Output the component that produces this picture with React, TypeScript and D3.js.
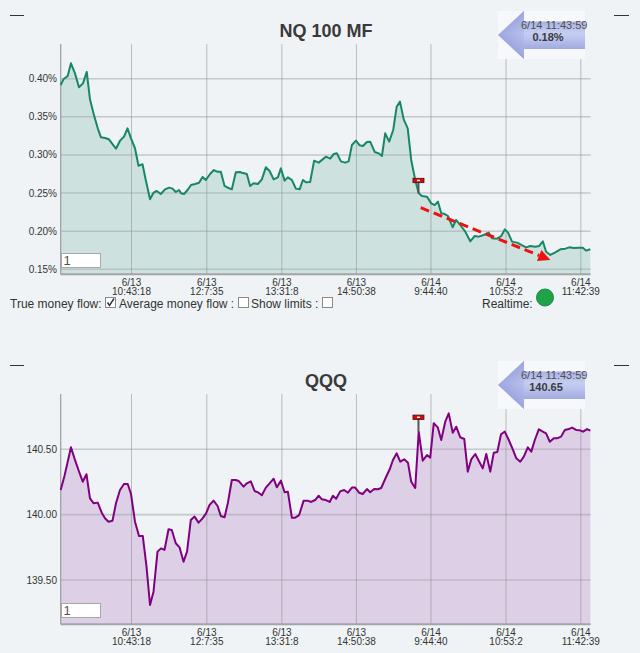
import React from 'react';
import * as d3 from 'd3';

// ---------- data ----------
const mfPoints: [number, number][] = [
  [0,0.3917],[1.1,0.3992],[2.8,0.4035],[4.1,0.4202],[5.7,0.4070],[7.3,0.3887],[8.9,0.3939],[10.4,0.4088],[11.7,0.3729],[13.1,0.3546],
  [14.8,0.3349],[16.1,0.3231],[17.7,0.3222],[19.3,0.3205],[20.7,0.3143],[22.1,0.3082],[23.7,0.3187],[25.3,0.3240],[26.7,0.3349],[28.1,0.3218],
  [29.7,0.3087],[31.1,0.2859],[32.7,0.2877],[34.0,0.2671],[35.7,0.2418],[37.1,0.2505],[38.4,0.2527],[40.0,0.2488],[41.7,0.2549],[43.3,0.2571],
  [44.7,0.2558],[46.0,0.2514],[47.3,0.2540],[48.1,0.2497],[49.3,0.2488],[50.7,0.2540],[52.1,0.2606],[53.7,0.2619],[55.3,0.2636],[56.7,0.2711],
  [58.0,0.2671],[59.7,0.2750],[61.2,0.2802],[62.5,0.2781],[64.0,0.2781],[65.5,0.2593],[67.1,0.2566],[68.4,0.2549],[70.0,0.2772],[71.7,0.2776],
  [72.4,0.2767],[74.4,0.2750],[75.7,0.2593],[77.1,0.2628],[78.8,0.2619],[80.4,0.2680],[82.0,0.2838],[83.5,0.2789],[85.1,0.2680],[86.8,0.2706],
  [88.0,0.2824],[89.5,0.2663],[90.8,0.2706],[92.4,0.2671],[94.0,0.2558],[95.5,0.2549],[96.8,0.2671],[98.1,0.2641],[99.7,0.2645],[101.3,0.2925],
  [103.1,0.2899],[104.7,0.2942],[106.0,0.2977],[107.7,0.2951],[109.1,0.3012],[110.4,0.3021],[112.0,0.2916],[113.7,0.2899],[115.1,0.2916],[116.4,0.3130],
  [118.0,0.3187],[119.5,0.3126],[120.8,0.3117],[122.4,0.3170],[123.7,0.3174],[125.5,0.3039],[127.1,0.3021],[128.4,0.2986],[129.7,0.3283],[131.3,0.3174],
  [132.9,0.3327],[134.3,0.3633],[135.6,0.3699],[137.1,0.3467],[138.7,0.3349],[140.1,0.2934],[141.7,0.2671],[143.1,0.2497],[144.4,0.2462],[146.4,0.2453],
  [148.1,0.2365],[149.5,0.2343],[150.8,0.2387],[152.1,0.2234],[153.5,0.2225],[154.8,0.2199],[156.7,0.2051],[158.0,0.2147],[159.7,0.2081],[161.7,0.1994],
  [163.7,0.1867],[165.5,0.1937],[167.1,0.1928],[169.1,0.1950],[171.1,0.1981],[172.4,0.1906],[174.4,0.1902],[176.1,0.1937],[177.5,0.2024],[178.8,0.1981],
  [180.4,0.1863],[182.4,0.1850],[184.1,0.1819],[186.0,0.1788],[187.7,0.1806],[189.7,0.1797],[191.3,0.1806],[192.7,0.1867],[194.0,0.1731],[195.7,0.1688],
  [197.7,0.1723],[199.7,0.1762],[201.7,0.1771],[203.3,0.1788],[205.1,0.1779],[207.1,0.1784],[208.7,0.1784],[210.0,0.1745],[211.7,0.1762],
];

const qqqPoints: [number, number][] = [
  [0,140.189],[1.5,140.296],[2.8,140.405],[4.1,140.515],[5.5,140.431],[7.1,140.342],[8.8,140.252],[10.3,140.309],[11.7,140.125],[13.2,140.087],
  [14.8,140.092],[16.4,140.015],[17.7,139.972],[19.1,139.946],[20.7,139.954],[22.1,140.087],[23.7,140.189],[25.3,140.235],[26.8,140.235],[28.1,140.158],
  [29.7,139.946],[31.3,139.837],[32.8,139.837],[34.3,139.602],[35.7,139.309],[37.1,139.411],[38.7,139.717],[40.1,139.742],[41.5,139.730],[43.1,139.888],
  [44.4,139.883],[46.0,139.781],[47.5,139.750],[49.1,139.640],[50.5,139.717],[52.0,139.959],[53.5,139.985],[55.1,139.939],[56.7,139.972],[58.1,140.010],
  [59.5,140.074],[61.1,140.107],[62.7,140.066],[64.0,139.990],[65.5,139.980],[66.8,140.087],[68.4,140.265],[70.0,140.265],[71.1,140.258],[73.1,140.214],
  [74.4,140.240],[76.0,140.255],[77.5,140.181],[79.1,140.168],[80.4,140.148],[82.0,140.207],[83.5,140.240],[85.1,140.275],[86.4,140.209],[88.0,140.260],
  [89.5,140.171],[90.8,140.176],[92.4,139.977],[93.7,139.977],[95.3,139.997],[97.1,140.107],[98.7,140.107],[100.1,140.097],[101.7,140.112],[103.1,140.145],
  [104.4,140.117],[106.0,140.112],[107.5,140.097],[108.8,140.145],[110.1,140.122],[111.7,140.178],[113.3,140.189],[114.8,140.168],[116.4,140.207],[117.7,140.207],
  [119.3,140.168],[120.7,140.158],[122.4,140.196],[123.7,140.171],[125.3,140.196],[126.8,140.194],[128.1,140.204],[130.0,140.286],[131.5,140.347],[132.8,140.418],
  [134.3,140.469],[135.7,140.405],[137.3,140.423],[138.8,140.398],[140.1,140.252],[141.7,140.204],[143.1,140.635],[144.7,140.413],[146.4,140.456],[147.7,140.436],
  [149.1,140.699],[150.7,140.668],[152.1,140.571],[153.7,140.711],[155.1,140.775],[156.7,140.627],[158.1,140.673],[159.7,140.592],[161.3,140.579],[162.7,140.329],
  [164.1,140.423],[165.7,140.464],[167.3,140.405],[168.7,140.354],[170.1,140.464],[171.7,140.329],[173.1,140.474],[174.5,140.479],[176.0,140.615],[177.5,140.635],
  [179.1,140.571],[180.7,140.500],[182.1,140.431],[183.7,140.405],[185.1,140.444],[186.7,140.515],[188.1,140.482],[189.5,140.571],[191.1,140.653],[192.7,140.635],
  [194.0,140.622],[195.5,140.558],[197.1,140.584],[198.4,140.584],[200.0,140.597],[201.5,140.648],[203.1,140.655],[204.4,140.666],[206.0,140.648],[207.5,140.645],
  [208.8,140.635],[210.4,140.655],[211.7,140.643],
];

const xTickIdx = [28.3, 58.4, 88.4, 118.2, 148, 178, 207.9];
const xTickDates = ['6/13', '6/13', '6/13', '6/13', '6/14', '6/14', '6/14'];
const xTickTimes = ['10:43:18', '12:7:35', '13:31:8', '14:50:38', '9:44:40', '10:53:2', '11:42:39'];

const mfTicks = [0.15, 0.2, 0.25, 0.3, 0.35, 0.4];
const qqqTicks = [139.5, 140.0, 140.5];

const mfTrend: [number, number][] = [[143.9, 0.2308], [195.7, 0.1622]];
const mfMarker = { idx: 143.0, top: 0.2665, bottom: 0.2497 };
const qqqMarker = { idx: 143.0, top: 140.745, bottom: 140.635 };

const badgeTime = '6/14 11:43:59';
const mfBadgeValue = '0.18%';
const qqqBadgeValue = '140.65';

const legendItems = [
  { label: 'True money flow:', checked: true },
  { label: 'Average money flow :', checked: false },
  { label: 'Show limits :', checked: false },
];

// ---------- layout ----------
const W = 640;
const H = 653;
const BG = '#eff3f6';
const FONT = "'Liberation Sans', Arial, sans-serif";
const PLOT_L = 60.7;
const PLOT_R = 590.6;
const PLOT_T = 44;
const PLOT_B = 274.3;

const x = d3.scaleLinear().domain([0, 211.8]).range([PLOT_L, PLOT_R]);

type PanelProps = {
  offset: number;
  title: string;
  points: [number, number][];
  yDomain: [number, number];
  yRange: [number, number];
  ticks: number[];
  fmt: (v: number) => string;
  fill: string;
  stroke: string;
  badgeValue: string;
  badgeValueX: number;
  marker: { idx: number; top: number; bottom: number };
  trend?: [number, number][];
  gid: string;
};

function Panel(p: PanelProps) {
  const y = d3.scaleLinear().domain(p.yDomain).range(p.yRange);
  const line = d3.line<[number, number]>().x(d => x(d[0])).y(d => y(d[1]));
  const area = d3.area<[number, number]>().x(d => x(d[0])).y0(PLOT_B).y1(d => y(d[1]));
  const mx = x(p.marker.idx);
  return (
    <g transform={`translate(0,${p.offset})`}>
      <defs>
        <linearGradient id={p.gid} x1="0" y1="0" x2="0" y2="1">
          <stop offset="0" stopColor="#8b96d6" />
          <stop offset="0.45" stopColor="#c6cdf1" />
          <stop offset="0.55" stopColor="#bec6ef" />
          <stop offset="1" stopColor="#8792d2" />
        </linearGradient>
        <linearGradient id={p.gid + 'h'} x1="0" y1="0" x2="1" y2="0">
          <stop offset="0" stopColor="#7f8bd0" />
          <stop offset="1" stopColor="#aab3e8" />
        </linearGradient>
      </defs>
      {/* corner dashes */}
      <line x1={10} x2={24} y1={15.5} y2={15.5} stroke="#333" strokeWidth={1} />
      <line x1={614} x2={629} y1={15.5} y2={15.5} stroke="#333" strokeWidth={1} />
      {/* title */}
      <text x={326} y={36.5} textAnchor="middle" fontFamily={FONT} fontWeight="bold" fontSize={18} fill="#3a3a3a">
        {p.title}
      </text>
      {/* area */}
      <path d={area(p.points) || ''} fill={p.fill} />
      {/* horizontal gridlines */}
      {p.ticks.map(t => (
        <line key={'h' + t} x1={PLOT_L} x2={PLOT_R} y1={y(t)} y2={y(t)} stroke="#a9abb0" strokeOpacity={0.6} strokeWidth={1.6} />
      ))}
      {/* vertical gridlines */}
      {xTickIdx.map(t => (
        <line key={'v' + t} x1={x(t)} x2={x(t)} y1={PLOT_T} y2={PLOT_B} stroke="#8c8c90" strokeOpacity={0.55} strokeWidth={1} />
      ))}
      {/* axes */}
      <line x1={PLOT_L} x2={PLOT_L} y1={PLOT_T} y2={PLOT_B} stroke="#9a9ca0" strokeWidth={1.2} />
      <line x1={PLOT_L} x2={PLOT_R} y1={PLOT_B} y2={PLOT_B} stroke="#a2a4a8" strokeWidth={2} />
      {/* y tick labels */}
      {p.ticks.map(t => (
        <text key={'yl' + t} x={57} y={y(t) + 3.5} textAnchor="end" fontFamily={FONT} fontSize={10} fill="#333">
          {p.fmt(t)}
        </text>
      ))}
      {/* x tick labels */}
      {xTickIdx.map((t, i) => (
        <text key={'xl' + t} x={x(t)} y={285.5} textAnchor="middle" fontFamily={FONT} fontSize={10} fill="#333">
          <tspan x={x(t)} dy={0}>{xTickDates[i]}</tspan>
          <tspan x={x(t)} dy={9.6}>{xTickTimes[i]}</tspan>
        </text>
      ))}
      {/* series line */}
      <path d={line(p.points) || ''} fill="none" stroke={p.stroke} strokeWidth={2} strokeLinejoin="round" />
      {/* marker */}
      <line x1={mx} x2={mx} y1={y(p.marker.top)} y2={y(p.marker.bottom)} stroke="#555" strokeWidth={2} />
      <rect x={mx - 5.5} y={y(p.marker.top) - 2.2} width={11} height={4.4} fill="#ee0000" stroke="#222" strokeWidth={0.8} />
      <rect x={mx - 1.5} y={y(p.marker.top) - 0.7} width={3} height={1.4} fill="#fff" />
      {/* trend arrow */}
      {p.trend && (() => {
        const [a, b] = p.trend!;
        const x1 = x(a[0]), y1 = y(a[1]), x2 = x(b[0]), y2 = y(b[1]);
        const ang = Math.atan2(y2 - y1, x2 - x1);
        const hl = 12, hw = 6;
        const bx = x2 - hl * Math.cos(ang), by = y2 - hl * Math.sin(ang);
        const px = -Math.sin(ang), py = Math.cos(ang);
        return (
          <g>
            <line x1={x1} y1={y1} x2={bx} y2={by} stroke="#f01010" strokeWidth={3} strokeDasharray="9,5" />
            <polygon points={`${x2},${y2} ${bx + px * hw},${by + py * hw} ${bx - px * hw},${by - py * hw}`} fill="#f01010" />
          </g>
        );
      })()}
      {/* input box */}
      <rect x={61.5} y={253.5} width={39} height={14} fill="#fff" stroke="#a8a8a8" strokeWidth={1} />
      <text x={63.5} y={265} fontFamily={FONT} fontSize={13} fill="#555">1</text>
      {/* badge */}
      <rect x={498} y={11} width={87} height={48} fill="#f7f8fb" />
      <path d="M498,35 L524,11 L524,21.5 L585,21.5 L585,49 L524,49 L524,59 Z" fill={`url(#${p.gid})`} />
      <path d="M498,35 L524,11 L524,59 Z" fill={`url(#${p.gid}h)`} opacity={0.55} />
      <text x={521} y={29} fontFamily={FONT} fontSize={11} fill="#505050">{badgeTime}</text>
      <text x={p.badgeValueX} y={41} textAnchor="middle" fontFamily={FONT} fontWeight="bold" fontSize={11} fill="#3a3a3a">
        {p.badgeValue}
      </text>
    </g>
  );
}

function Legend() {
  const xs = [10, 119, 251];
  const boxX = [105, 238, 322];
  return (
    <g>
      {legendItems.map((it, i) => (
        <g key={it.label}>
          <text x={xs[i]} y={307.5} fontFamily={FONT} fontSize={12} fill="#333">{it.label}</text>
          <rect x={boxX[i] + 0.5} y={297.5} width={10} height={10} fill="#fff" stroke="#8a8a8a" />
          {it.checked && (
            <path d={`M${boxX[i] + 2.5},${302.5} L${boxX[i] + 4.5},${305.5} L${boxX[i] + 9},${298.5}`} fill="none" stroke="#334" strokeWidth={1.5} />
          )}
        </g>
      ))}
      <text x={482} y={307.5} fontFamily={FONT} fontSize={12} fill="#333">Realtime:</text>
      <circle cx={545} cy={297.5} r={8.5} fill="#1ea34a" stroke="#178a3c" strokeWidth={1} />
    </g>
  );
}

export default function App() {
  return (
    <div style={{ position: 'fixed', left: 0, top: 0, width: W, height: H }}>
      <svg width={W} height={H} viewBox={`0 0 ${W} ${H}`} style={{ display: 'block' }}>
        <rect x={0} y={0} width={W} height={H} fill={BG} />
        <Panel
          offset={0}
          title="NQ 100 MF"
          points={mfPoints}
          yDomain={[0.15, 0.4]}
          yRange={[269.3, 78.7]}
          ticks={mfTicks}
          fmt={v => v.toFixed(2) + '%'}
          fill="#cde2df"
          stroke="#178764"
          badgeValue={mfBadgeValue}
          badgeValueX={548}
          marker={mfMarker}
          trend={mfTrend}
          gid="badgeA"
        />
        <Legend />
        <Panel
          offset={350}
          title="QQQ"
          points={qqqPoints}
          yDomain={[139.5, 140.5]}
          yRange={[230, 99.3]}
          ticks={qqqTicks}
          fmt={v => v.toFixed(2)}
          fill="#ddcfe5"
          stroke="#800080"
          badgeValue={qqqBadgeValue}
          badgeValueX={546}
          marker={qqqMarker}
          gid="badgeB"
        />
      </svg>
    </div>
  );
}
